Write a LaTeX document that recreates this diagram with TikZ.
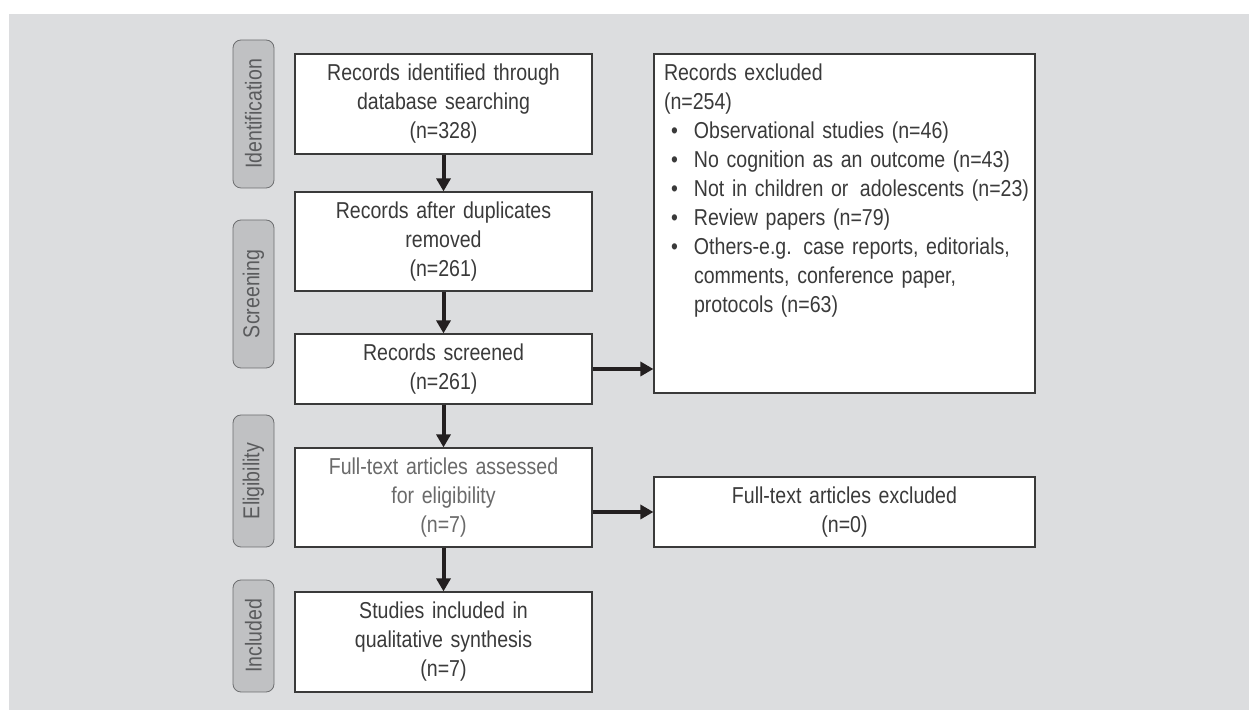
\documentclass[tikz,border=0pt]{standalone}
\usepackage{fontspec}
\setmainfont[FakeStretch=0.85]{Liberation Sans}
\usetikzlibrary{arrows.meta}

\definecolor{pagegray}{HTML}{DCDDDF}
\definecolor{stagegray}{HTML}{C0C1C3}
\definecolor{stageedge}{HTML}{6D6E70}
\definecolor{stageink}{HTML}{5A5B5D}
\definecolor{inkgray}{HTML}{3A3A3A}
\definecolor{paleink}{HTML}{6A6A6A}
\definecolor{arrowink}{HTML}{231F20}

\newcommand{\flowfont}{\fontsize{11.5}{14.5}\selectfont}
\newcommand{\bul}[1]{\mbox{\makebox[15pt][l]{\hspace{3.5pt}\textbullet}#1}}

\tikzset{
	stage/.style={draw=stageedge, fill=stagegray, rounded corners=4pt, rotate=90,
		minimum height=20.5pt, inner sep=0pt, text=stageink, font=\flowfont},
	recbox/.style={draw=inkgray, fill=white, line width=0.6pt, align=center,
		inner sep=0pt, text width=148.5pt, text=inkgray, font=\flowfont},
	sidebox/.style={recbox, text width=190.5pt},
	flow/.style={line width=2pt, draw=arrowink, -{Triangle[length=6.5pt,width=7pt]}}
}

\begin{document}
\begin{tikzpicture}[x=0.5pt, y=-0.5pt]
	\useasboundingbox (0,0) rectangle (1249,710);
	\fill[pagegray] (9,14) rectangle (1249,710);

	% stages
	\node[stage, minimum width=74pt] (ident) at (253.5,114) {Identification};
	\node[stage, minimum width=74pt] (screen) at (253.5,294) {Screening};
	\node[stage, minimum width=66pt] (elig) at (253.5,481) {Eligibility};
	\node[stage, minimum width=56pt] (incl) at (253.5,636) {Included};

	% main column
	\node[recbox, minimum height=50pt] (found) at (443.5,104)
		{Records identified through\\database searching\\(n=328)};
	\node[recbox, minimum height=49.5pt] (dedup) at (443.5,241.5)
		{Records after duplicates\\removed\\(n=261)};
	\node[recbox, minimum height=35pt] (screened) at (443.5,369)
		{Records screened\\(n=261)};
	\node[recbox, minimum height=49.5pt, text=paleink] (fulltext) at (443.5,497.5)
		{Full-text articles assessed\\for eligibility\\(n=7)};
	\node[recbox, minimum height=50pt] (studies) at (443.5,642)
		{Studies included in\\qualitative synthesis\\(n=7)};

	% excluded
	\node[sidebox, align=left, inner sep=5pt, text width=180.5pt] (recexcl) at (844.5,223.5)
		{\parbox[c][159.5pt][t]{180.5pt}{\flowfont\raggedright
		Records excluded\\
		(n=254)\\
		\bul{Observational studies (n=46)}\\
		\bul{No cognition as an outcome (n=43)}\\
		\bul{Not in children or~\,adolescents (n=23)}\\
		\bul{Review papers (n=79)}\\
		\bul{Others-e.g. case reports, editorials,}\\
		\hspace*{15pt}comments, conference paper,\\
		\hspace*{15pt}protocols (n=63)}};
	\node[sidebox, minimum height=35pt] (ftexcl) at (844.5,512)
		{Full-text articles excluded\\(n=0)};

	\draw[flow] (found) -- (dedup);
	\draw[flow] (dedup) -- (screened);
	\draw[flow] (screened) -- (fulltext);
	\draw[flow] (fulltext) -- (studies);
	\draw[flow] (screened.east) -- (screened.east -| recexcl.west);
	\draw[flow] (fulltext.east |- ftexcl.west) -- (ftexcl.west);
\end{tikzpicture}
\end{document}
